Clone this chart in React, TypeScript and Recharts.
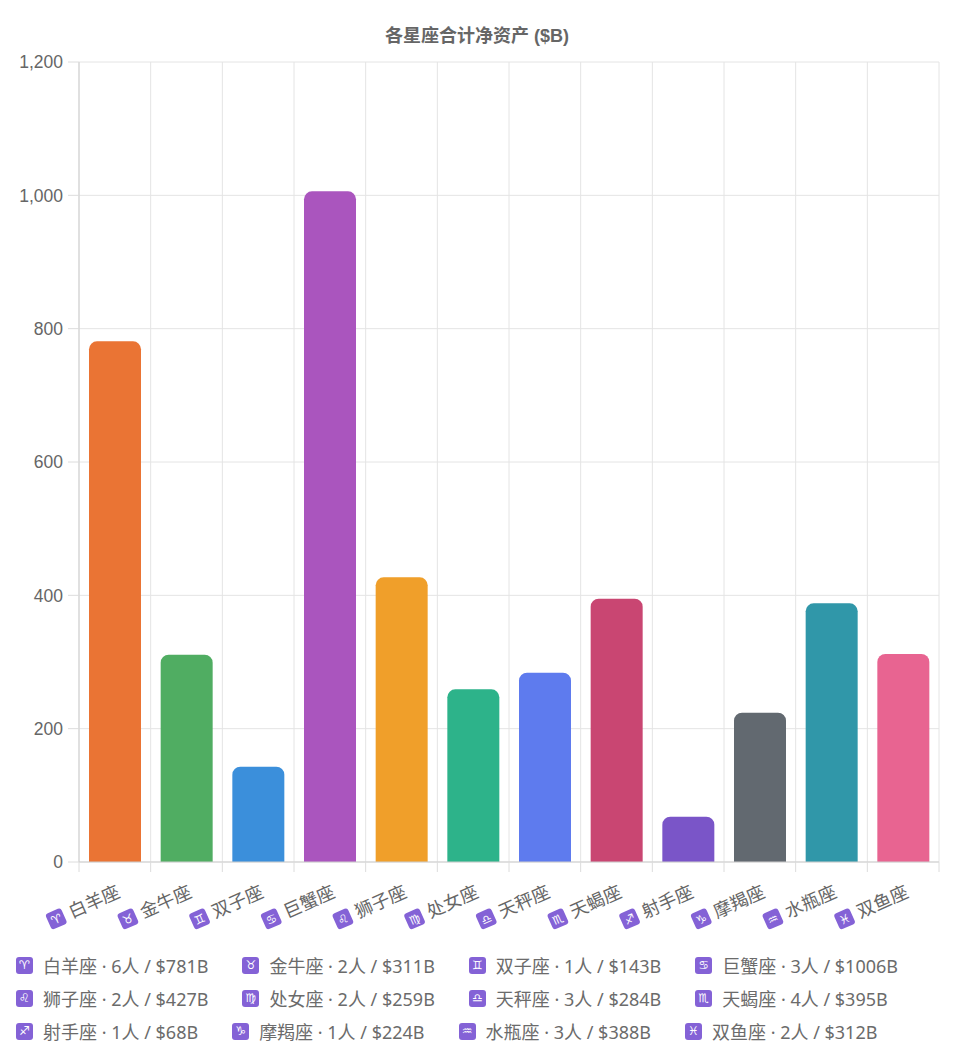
import React from 'react';
import { BarChart, Bar, XAxis, YAxis, CartesianGrid, Cell } from 'recharts';

const signs = ['白羊座', '金牛座', '双子座', '巨蟹座', '狮子座', '处女座', '天秤座', '天蝎座', '射手座', '摩羯座', '水瓶座', '双鱼座'];
const symbols = ['♈', '♉', '♊', '♋', '♌', '♍', '♎', '♏', '♐', '♑', '♒', '♓'];
const netWorth = [781, 311, 143, 1006, 427, 259, 284, 395, 68, 224, 388, 312];
const people = [6, 2, 1, 3, 2, 2, 3, 4, 1, 1, 3, 2];
const barColors = ['#EA7434', '#50AD62', '#3B8FDB', '#AA55BE', '#F09F2A', '#2DB38A', '#5E7BEE', '#C94672', '#7A55C8', '#626970', '#3097A9', '#E86491'];
const yTicks = [0, 200, 400, 600, 800, 1000, 1200];
const title = '各星座合计净资产 ($B)';

const data = signs.map((name, i) => ({ name, value: netWorth[i] }));

const CHART_FONT = '"Liberation Sans", "Noto Sans CJK SC", sans-serif';
const LEGEND_FONT = '"Noto Sans", "Noto Sans CJK SC", sans-serif';
const SYM_FONT = '"DejaVu Sans", sans-serif';
const ICON_BG = '#8462D6';

const XTick = (props: any) => {
  const { x, y, payload, index } = props;
  const half = payload && payload.offset ? payload.offset : 35.85;
  const sym = symbols[index];
  const axisY = y - 10;
  return (
    <g>
      <line x1={x - half} x2={x - half} y1={axisY} y2={axisY + 10} stroke="#dcdcdc" />
      {index === signs.length - 1 && (
        <line x1={x + half} x2={x + half} y1={axisY} y2={axisY + 10} stroke="#dcdcdc" />
      )}
      <g transform={`translate(${x + 4},${axisY + 29}) rotate(-24)`}>
        <text x={0} y={0} textAnchor="end" dominantBaseline="central" fontSize={18} fill="#666" fontFamily={CHART_FONT}>
          {payload.value}
        </text>
        <rect x={-77} y={-8.5} width={17} height={17} rx={3} fill={ICON_BG} />
        <text x={-68.5} y={0.5} textAnchor="middle" dominantBaseline="central" fontSize={12} fill="#fff" fontFamily={SYM_FONT}>
          {sym}
        </text>
      </g>
    </g>
  );
};

export default function App() {
  return (
    <div style={{ position: 'absolute', left: 0, top: 0, width: 954, height: 1057, background: '#fff' }}>
      <div
        style={{
          position: 'absolute',
          top: 24,
          left: 0,
          width: 954,
          textAlign: 'center',
          fontSize: 18,
          fontWeight: 'bold',
          color: '#666',
          lineHeight: '24px',
          fontFamily: CHART_FONT,
        }}
      >
        {title}
      </div>
      <div style={{ position: 'absolute', left: 0, top: 0 }}>
        <BarChart width={954} height={935} data={data} margin={{ top: 62, right: 15, left: 0, bottom: 0 }}>
          <CartesianGrid
            stroke="#e4e4e4"
            verticalCoordinatesGenerator={({ offset }: any) =>
              Array.from({ length: 13 }, (_, i) => offset.left + (i * offset.width) / 12)
            }
          />
          <XAxis
            dataKey="name"
            interval={0}
            height={73}
            tickLine={false}
            tickSize={10}
            tickMargin={0}
            axisLine={{ stroke: '#cfcfcf' }}
            tick={<XTick />}
          />
          <YAxis
            width={79}
            domain={[0, 1200]}
            ticks={yTicks}
            interval={0}
            tickFormatter={(v: number) => v.toLocaleString('en-US')}
            tick={{ fontSize: 17.5, fill: '#666', fontFamily: CHART_FONT }}
            axisLine={{ stroke: '#cfcfcf' }}
            tickLine={{ stroke: '#dcdcdc' }}
            tickSize={11}
            tickMargin={5}
          />
          <Bar dataKey="value" barSize={52} radius={[8, 8, 0, 0]} isAnimationActive={false}>
            {data.map((d, i) => (
              <Cell key={d.name} fill={barColors[i]} />
            ))}
          </Bar>
        </BarChart>
      </div>
      <div
        style={{
          position: 'absolute',
          top: 953,
          left: 16,
          width: 925,
          display: 'flex',
          flexWrap: 'wrap',
          columnGap: 34,
          rowGap: 9,
          fontFamily: LEGEND_FONT,
        }}
      >
        {signs.map((name, i) => (
          <div key={name} style={{ display: 'flex', alignItems: 'center', height: 24, fontSize: 18, color: '#6b6b6b', whiteSpace: 'nowrap' }}>
            <span
              style={{
                display: 'inline-flex',
                alignItems: 'center',
                justifyContent: 'center',
                width: 17,
                height: 17,
                borderRadius: 3,
                background: ICON_BG,
                color: '#fff',
                fontSize: 12,
                fontFamily: SYM_FONT,
                marginRight: 10,
              }}
            >
              {symbols[i]}
            </span>
            <span>{`${name} · ${people[i]}人 / $${netWorth[i]}B`}</span>
          </div>
        ))}
      </div>
    </div>
  );
}
